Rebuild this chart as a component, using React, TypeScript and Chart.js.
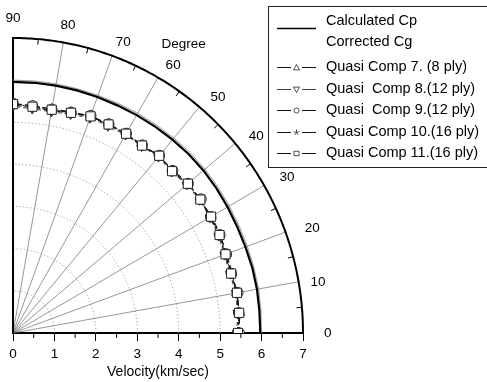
import React, { useEffect, useRef } from 'react';
import { Chart, registerables } from 'chart.js';

Chart.register(...registerables);

const ANGLES = [0, 5, 10, 15, 20, 25, 30, 35, 40, 45, 50, 55, 60, 65, 70, 75, 80, 85, 90];
const CALC_CP = [5.97, 5.97, 5.98, 5.98, 5.97, 5.97, 5.98, 5.99, 6.0, 6.0, 5.99, 5.98, 5.97, 5.96, 5.96, 5.96, 5.96, 5.96, 5.96];
const CORR_CG = [6.01, 6.01, 6.02, 6.02, 6.02, 6.02, 6.03, 6.04, 6.05, 6.05, 6.04, 6.03, 6.02, 6.01, 6.0, 6.0, 6.0, 6.0, 6.0];
const Q7 = [5.45, 5.5, 5.47, 5.48, 5.49, 5.52, 5.54, 5.5, 5.53, 5.46, 5.47, 5.45, 5.44, 5.48, 5.45, 5.43, 5.4, 5.41, 5.44];
const Q8 = [5.4, 5.44, 5.46, 5.42, 5.43, 5.47, 5.49, 5.5, 5.48, 5.41, 5.46, 5.41, 5.43, 5.42, 5.43, 5.37, 5.33, 5.34, 5.38];
const Q9 = [5.46, 5.47, 5.51, 5.46, 5.48, 5.51, 5.51, 5.54, 5.52, 5.45, 5.5, 5.44, 5.47, 5.47, 5.49, 5.42, 5.39, 5.41, 5.45];
const Q10 = [5.42, 5.46, 5.48, 5.44, 5.45, 5.49, 5.5, 5.51, 5.5, 5.42, 5.48, 5.42, 5.45, 5.45, 5.46, 5.4, 5.36, 5.37, 5.41];
const Q11 = [5.43, 5.48, 5.49, 5.45, 5.46, 5.5, 5.52, 5.52, 5.51, 5.43, 5.49, 5.43, 5.46, 5.46, 5.47, 5.41, 5.38, 5.39, 5.43];

const X_TICKS = [0, 1, 2, 3, 4, 5, 6, 7];
const X_MINOR = [0.5, 1.5, 2.5, 3.5, 4.5, 5.5, 6.5];
const ANGLE_LABELS = [0, 10, 20, 30, 40, 50, 60, 70, 80, 90];
// where each angle label sits (polar position of the text centre)
const ANGLE_LABEL_AT = [0, 9.3, 19, 29.2, 38.5, 48.5, 58.7, 68.9, 79.7, 90];
const ANGLE_LABEL_R = [7.6, 7.46, 7.64, 7.58, 7.5, 7.47, 7.44, 7.4, 7.43, 7.47];
const RADIAL_LINES = [10, 20, 30, 40, 50, 60, 70, 80];
const ARC_MINOR = [5, 15, 25, 35, 45, 55, 65, 75, 85];
const GRID_RADII = [1, 2, 3, 4, 5, 6];
const R_MAX = 7;

const SERIES_LABELS = [
  'Quasi Comp 7. (8 ply)',
  'Quasi  Comp 8.(12 ply)',
  'Quasi  Comp 9.(12 ply)',
  'Quasi Comp 10.(16 ply)',
  'Quasi Comp 11.(16 ply)',
];
const LINE_LABELS = ['Calculated Cp', 'Corrected Cg'];

const FONT = "'Liberation Sans', Arial, Helvetica, sans-serif";

const toXY = (r: number, deg: number) => ({
  x: r * Math.cos((deg * Math.PI) / 180),
  y: r * Math.sin((deg * Math.PI) / 180),
});
const polar = (vals: number[]) => vals.map((r, i) => toXY(r, ANGLES[i]));

type SeriesStyle = { data: number[]; style: string; rot: number; dash: number[]; color: string };
const SERIES: SeriesStyle[] = [
  { data: Q7, style: 'triangle', rot: 0, dash: [6, 3], color: '#111' },
  { data: Q8, style: 'triangle', rot: 180, dash: [4, 3], color: '#444' },
  { data: Q9, style: 'circle', rot: 0, dash: [6, 3], color: '#111' },
  { data: Q10, style: 'star', rot: 0, dash: [6, 3, 2, 3], color: '#111' },
  { data: Q11, style: 'rect', rot: 0, dash: [6, 2, 2, 2, 2, 2], color: '#111' },
];

function drawMarker(ctx: CanvasRenderingContext2D, style: string, rot: number, x: number, y: number, s: number) {
  ctx.save();
  ctx.setLineDash([]);
  ctx.fillStyle = '#fff';
  ctx.strokeStyle = '#222';
  ctx.lineWidth = 0.8;
  ctx.beginPath();
  if (style === 'triangle') {
    const d = rot ? -1 : 1;
    ctx.moveTo(x, y - d * s);
    ctx.lineTo(x + s, y + d * s * 0.8);
    ctx.lineTo(x - s, y + d * s * 0.8);
    ctx.closePath();
    ctx.fill();
    ctx.stroke();
  } else if (style === 'circle') {
    ctx.arc(x, y, s * 0.85, 0, Math.PI * 2);
    ctx.fill();
    ctx.stroke();
  } else if (style === 'star') {
    for (let i = 0; i < 5; i++) {
      const a = -Math.PI / 2 + (i * 2 * Math.PI) / 5;
      ctx.moveTo(x, y);
      ctx.lineTo(x + Math.cos(a) * s, y + Math.sin(a) * s);
    }
    ctx.stroke();
  } else {
    ctx.rect(x - s * 0.85, y - s * 0.75, s * 1.7, s * 1.5);
    ctx.fill();
    ctx.stroke();
  }
  ctx.restore();
}

const polarGrid = {
  id: 'polarGrid',
  beforeDatasetsDraw(chart: any) {
    const ctx: CanvasRenderingContext2D = chart.ctx;
    const xs = chart.scales.x;
    const ys = chart.scales.y;
    const P = (r: number, deg: number) => {
      const p = toXY(r, deg);
      return [xs.getPixelForValue(p.x), ys.getPixelForValue(p.y)];
    };
    const arc = (r: number) => {
      ctx.beginPath();
      for (let a = 0; a <= 90; a += 0.5) {
        const [px, py] = P(r, a);
        if (a === 0) ctx.moveTo(px, py);
        else ctx.lineTo(px, py);
      }
      ctx.stroke();
    };
    ctx.save();
    // dotted circles
    ctx.strokeStyle = '#9a9a9a';
    ctx.lineWidth = 0.8;
    ctx.setLineDash([1.5, 2]);
    GRID_RADII.forEach((r) => arc(r));
    ctx.setLineDash([]);
    // radial lines
    ctx.strokeStyle = '#6a6a6a';
    ctx.lineWidth = 0.7;
    RADIAL_LINES.forEach((a) => {
      const [x0, y0] = P(0, a);
      const [x1, y1] = P(R_MAX, a);
      ctx.beginPath();
      ctx.moveTo(x0, y0);
      ctx.lineTo(x1, y1);
      ctx.stroke();
    });
    // outer arc
    ctx.strokeStyle = '#000';
    ctx.lineWidth = 2;
    arc(R_MAX);
    // arc minor ticks
    ctx.lineWidth = 1;
    ARC_MINOR.forEach((a) => {
      const [x0, y0] = P(R_MAX, a);
      const [x1, y1] = P(R_MAX - 0.13, a);
      ctx.beginPath();
      ctx.moveTo(x0, y0);
      ctx.lineTo(x1, y1);
      ctx.stroke();
    });
    // vertical axis (90 deg)
    ctx.lineWidth = 2;
    const [vx0, vy0] = P(0, 90);
    const [vx1, vy1] = P(R_MAX, 90);
    ctx.beginPath();
    ctx.moveTo(vx0, vy0 + 1);
    ctx.lineTo(vx1, vy1 - 1);
    ctx.stroke();
    // x minor ticks
    ctx.lineWidth = 1;
    const yb = ys.getPixelForValue(0);
    X_MINOR.forEach((v) => {
      const px = xs.getPixelForValue(v);
      ctx.beginPath();
      ctx.moveTo(px, yb);
      ctx.lineTo(px, yb + 5);
      ctx.stroke();
    });
    // angle labels
    ctx.fillStyle = '#000';
    ctx.font = `13.5px ${FONT}`;
    ctx.textAlign = 'center';
    ctx.textBaseline = 'middle';
    ANGLE_LABELS.forEach((a, i) => {
      const [px, py] = P(ANGLE_LABEL_R[i], ANGLE_LABEL_AT[i]);
      ctx.fillText(String(a), px, py);
    });
    const [dx, dy] = P(8.0, 59);
    ctx.fillText('Degree', dx, dy);
    ctx.restore();
  },
  afterDraw(chart: any) {
    const ctx: CanvasRenderingContext2D = chart.ctx;
    ctx.save();
    const left = 268.5;
    const top = 6.5;
    const bottom = 167.5;
    ctx.fillStyle = '#fff';
    ctx.fillRect(left, top, 240, bottom - top);
    ctx.strokeStyle = '#222';
    ctx.lineWidth = 1;
    ctx.strokeRect(left, top, 240, bottom - top);
    ctx.font = `14.5px ${FONT}`;
    ctx.fillStyle = '#000';
    ctx.textAlign = 'left';
    ctx.textBaseline = 'middle';
    const tx = 326;
    const lx0 = 277;
    const lx1 = 316;
    ctx.fillText(LINE_LABELS[0], tx, 21);
    ctx.fillText(LINE_LABELS[1], tx, 42);
    ctx.strokeStyle = '#000';
    ctx.lineWidth = 1.6;
    ctx.beginPath();
    ctx.moveTo(lx0, 28.5);
    ctx.lineTo(lx1, 28.5);
    ctx.stroke();
    const rows = [67, 89, 110, 132, 153];
    SERIES.forEach((s, i) => {
      const y = rows[i] + 0.5;
      ctx.fillStyle = '#000';
      ctx.fillText(SERIES_LABELS[i], tx, rows[i]);
      ctx.strokeStyle = s.color;
      ctx.lineWidth = 1;
      ctx.beginPath();
      ctx.moveTo(lx0, y);
      ctx.lineTo(lx0 + 14, y);
      ctx.moveTo(lx1 - 14, y);
      ctx.lineTo(lx1, y);
      ctx.stroke();
      drawMarker(ctx, s.style, s.rot, (lx0 + lx1) / 2, y, 3);
    });
    ctx.restore();
  },
};

export default function App() {
  const ref = useRef<HTMLCanvasElement>(null);
  useEffect(() => {
    if (!ref.current) return;
    Chart.defaults.font.family = FONT;
    const datasets: any[] = [
      {
        label: 'Calculated Cp',
        data: polar(CALC_CP),
        showLine: true,
        borderColor: '#000',
        borderWidth: 2.2,
        pointRadius: 0,
        order: 10,
      },
      {
        label: 'Corrected Cg',
        data: polar(CORR_CG),
        showLine: true,
        borderColor: '#9a9a9a',
        borderWidth: 1,
        pointRadius: 0,
        order: 11,
      },
      ...SERIES.map((s, i) => ({
        label: SERIES_LABELS[i],
        data: polar(s.data),
        showLine: true,
        borderColor: s.color,
        borderWidth: 1,
        borderDash: s.dash,
        pointStyle: s.style,
        pointRotation: s.rot,
        pointRadius: s.style === 'rect' ? 6.5 : 5.2,
        pointBackgroundColor: '#fff',
        pointBorderColor: '#222',
        pointBorderWidth: 1,
        order: 6 - i,
      })),
    ];
    const chart = new Chart(ref.current, {
      type: 'scatter',
      data: { datasets },
      options: {
        animation: false,
        responsive: false,
        devicePixelRatio: 1,
        layout: { padding: { left: 13, right: 184, top: 38, bottom: 0 } },
        plugins: { legend: { display: false }, tooltip: { enabled: false } },
        scales: {
          x: {
            type: 'linear',
            min: 0,
            max: R_MAX,
            position: 'bottom',
            afterBuildTicks: (axis: any) => {
              axis.ticks = X_TICKS.map((v) => ({ value: v }));
            },
            afterFit: (axis: any) => {
              axis.height = 49;
            },
            ticks: { color: '#000', font: { size: 13.5, family: FONT }, padding: 5 },
            grid: {
              display: true,
              drawOnChartArea: false,
              drawTicks: true,
              tickLength: 8,
              color: '#000',
              lineWidth: 1,
            },
            border: { display: true, color: '#000', width: 2 },
            title: {
              display: true,
              text: 'Velocity(km/sec)',
              color: '#000',
              font: { size: 14, family: FONT },
              padding: { top: 2, bottom: 1 },
            },
          },
          y: {
            type: 'linear',
            min: 0,
            max: R_MAX,
            display: false,
          },
        },
      },
      plugins: [polarGrid],
    } as any);
    return () => chart.destroy();
  }, []);
  return (
    <div style={{ position: 'absolute', left: 0, top: 0, width: 487, height: 382, background: '#fff' }}>
      <canvas ref={ref} width={487} height={382} style={{ display: 'block', width: 487, height: 382 }} />
    </div>
  );
}
